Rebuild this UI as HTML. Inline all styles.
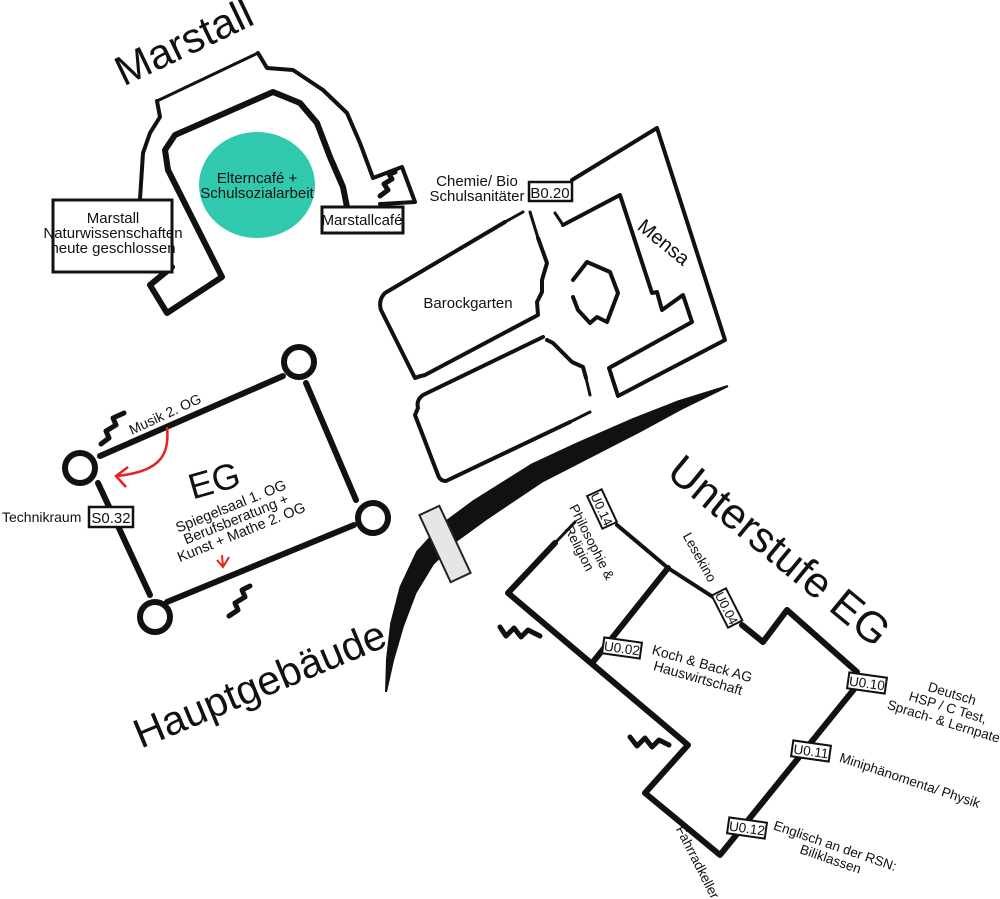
<!DOCTYPE html>
<html><head><meta charset="utf-8">
<style>
html,body{margin:0;padding:0;background:#fff;}
svg{display:block;}
text{font-family:"Liberation Sans",Arial,sans-serif;fill:#111;}
.w{fill:none;stroke:#111;stroke-linejoin:round;stroke-linecap:round;}
</style></head><body>
<svg width="1000" height="899" viewBox="0 0 1000 899" xmlns="http://www.w3.org/2000/svg">
<rect width="1000" height="899" fill="#fff"/>

<!-- ===== MARSTALL ===== -->
<text transform="translate(190,55) rotate(-25.5)" text-anchor="middle" font-size="42">Marstall</text>
<path class="w" stroke-width="4" d="M140,199 L143,153 L150,133 L160,117 L157,101"/>
<path class="w" stroke="#aaa" stroke-width="3" d="M157,101 L258,53"/>
<path class="w" stroke-width="4" d="M258,53 L267,68 L293,70 L323,90 L347,113 L360,143 L373,178 L402,167 L415,202 L380,204"/>
<path class="w" stroke-width="6" d="M347,207 L343,187 L330,157 L317,123 L300,103 L273,92 L175,135 L165,150 L168,170 L222,277 L167,313 L150,285 L172,267"/>
<path class="w" stroke-width="5" d="M380,196 L388,190 L384,184 L392,179 L389,174 L395,172"/>
<ellipse cx="257" cy="185" rx="58" ry="53" fill="#30c9ae"/>
<text x="257" y="183" text-anchor="middle" font-size="15">Elterncafé +</text>
<text x="257" y="198" text-anchor="middle" font-size="15">Schulsozialarbeit</text>
<rect x="53" y="200" width="119" height="72" fill="#fff" stroke="#111" stroke-width="3"/>
<text x="113" y="223" text-anchor="middle" font-size="15">Marstall</text>
<text x="113" y="238" text-anchor="middle" font-size="15">Naturwissenschaften</text>
<text x="113" y="253" text-anchor="middle" font-size="15">heute geschlossen</text>
<rect x="322" y="207" width="81" height="26" fill="#fff" stroke="#111" stroke-width="3"/>
<text x="362" y="225" text-anchor="middle" font-size="15">Marstallcafé</text>

<!-- ===== BAROCKGARTEN / MENSA ===== -->
<text x="477" y="186" text-anchor="middle" font-size="15">Chemie/ Bio</text>
<text x="477" y="201" text-anchor="middle" font-size="15">Schulsanitäter</text>
<rect x="529" y="182" width="43" height="19" fill="#fff" stroke="#111" stroke-width="2.5"/>
<text x="550" y="198" text-anchor="middle" font-size="15">B0.20</text>

<path class="w" stroke-width="4" d="M572,180 L657,128 L725,340 L618,396 L609,368 L692,322 L683,295 L662,310 L657,292 L652,293 L620,195 L563,225"/>
<path class="w" stroke="#bbb" stroke-width="3" d="M563,225 L555,213"/>
<text transform="translate(664,242) rotate(39)" y="7" text-anchor="middle" font-size="20">Mensa</text>

<path class="w" stroke="#bbb" stroke-width="3" d="M523,212 L505,222"/>
<path class="w" stroke-width="4" d="M505,222 L385,293 Q378,300 381,310 L415,378 Q420,376 425,375 L538,315 L537,302 L542,292 L542,280 L547,263 L538,238"/>
<path class="w" stroke="#bbb" stroke-width="3" d="M538,238 L530,212"/>
<text x="468" y="308" text-anchor="middle" font-size="15">Barockgarten</text>

<path class="w" stroke-width="4" d="M543,337 L423,395 Q416,400 418,408 L415,415 L438,475 Q440,481 446,481 L570,422"/>
<path class="w" stroke="#bbb" stroke-width="3" d="M570,422 L590,412"/>
<path class="w" stroke-width="4" d="M547,340 L553,343 L572,362 L583,367 L586,378"/>
<path class="w" stroke="#bbb" stroke-width="3" d="M586,378 L590,395"/>

<path class="w" stroke-width="4" d="M573,280 L587,262 L610,272 L618,293 L607,322 L597,317 L590,323 L578,310 L573,297"/>

<!-- ===== ROAD ===== -->
<polygon fill="#111" points="727.6,385 678,400.4 633.6,417.8 575.6,443 531.3,463.6 472.8,500.4 441.7,523.4 416.2,551.4 399.6,586.6 390.2,623.3 386,659.4 385,692 387,692 394,660.6 403.8,626.7 416.4,593.4 433.8,564.6 458.3,540.6 487.2,519.6 542.7,482.4 584.4,461 640.4,432.2 682,409.6 728.4,387"/>
<rect x="-37" y="-11" width="74" height="22" transform="translate(445,544) rotate(65)" fill="#e6e6e6" stroke="#222" stroke-width="2"/>

<!-- ===== EG BUILDING ===== -->
<path class="w" stroke-width="6" d="M100,456 L283,376"/>
<path class="w" stroke-width="6" d="M306,383 L356,500"/>
<path class="w" stroke-width="6" d="M354,525 L167,602"/>
<path class="w" stroke-width="6" d="M98,483 L150,595"/>
<circle cx="299" cy="362" r="15" fill="none" stroke="#111" stroke-width="6"/>
<circle cx="80" cy="468" r="15" fill="none" stroke="#111" stroke-width="6"/>
<circle cx="373" cy="518" r="15" fill="none" stroke="#111" stroke-width="6"/>
<circle cx="155" cy="617" r="15" fill="none" stroke="#111" stroke-width="6"/>
<path class="w" stroke-width="5" d="M101,444 L109,438 L106,431 L116,425 L113,418 L124,413"/>
<path class="w" stroke-width="5" d="M229,616 L238,610 L235,603 L245,597 L242,590 L250,586"/>

<text transform="translate(165,414) rotate(-25)" y="5" text-anchor="middle" font-size="14">Musik 2. OG</text>
<path d="M167,427 C170,455 160,472 116,476" fill="none" stroke="#e8201f" stroke-width="2.5"/>
<path d="M128,467 L116,476 L126,487" fill="none" stroke="#e8201f" stroke-width="2.5"/>

<text transform="translate(214,480) rotate(-16)" y="13" text-anchor="middle" font-size="36">EG</text>
<g transform="translate(236,519) rotate(-22)" font-size="14.5">
<text y="-9" text-anchor="middle">Spiegelsaal 1. OG</text>
<text y="5" text-anchor="middle">Berufsberatung +</text>
<text y="19" text-anchor="middle">Kunst + Mathe 2. OG</text>
</g>
<path d="M222,555 L223,567 M217,560 L223,567 L229,557" fill="none" stroke="#e8201f" stroke-width="2"/>

<text x="2" y="522" font-size="14">Technikraum</text>
<rect x="89" y="507" width="44" height="20" fill="#fff" stroke="#111" stroke-width="2.5"/>
<text x="111" y="523" text-anchor="middle" font-size="15">S0.32</text>

<text transform="translate(265,697) rotate(-22.6)" text-anchor="middle" font-size="41">Hauptgebäude</text>

<!-- ===== UNTERSTUFE ===== -->
<text transform="translate(770,562) rotate(39.5)" text-anchor="middle" font-size="43">Unterstufe EG</text>

<path class="w" stroke="#aaa" stroke-width="3" d="M575,522 L555,543"/>
<path class="w" stroke-width="6" d="M555,543 L508,593 L688,745 L645,793 L720,855 L855,688"/>
<path class="w" stroke-width="4" d="M617,525 L668,568 L713,597"/>
<path class="w" stroke-width="6" d="M742,625 L763,642 L787,610 L857,672"/>
<path class="w" stroke-width="6" d="M668,568 L593,662"/>
<path class="w" stroke-width="5" d="M500,627 L506,636 L514,628 L521,637 L528,630 L540,636"/>
<path class="w" stroke-width="5" d="M630,737 L637,746 L645,738 L652,747 L659,740 L669,745"/>

<g transform="translate(602,509) rotate(65)"><rect x="-18" y="-8" width="36" height="16" fill="#fff" stroke="#111" stroke-width="2"/><text y="5" text-anchor="middle" font-size="13">U0.14</text></g>
<g transform="translate(727,608) rotate(63)"><rect x="-18" y="-8" width="36" height="16" fill="#fff" stroke="#111" stroke-width="2"/><text y="5" text-anchor="middle" font-size="13">U0.04</text></g>
<g transform="translate(622,648) rotate(8)"><rect x="-19" y="-8" width="38" height="16" fill="#fff" stroke="#111" stroke-width="2"/><text y="5" text-anchor="middle" font-size="13.5">U0.02</text></g>
<g transform="translate(867,683) rotate(8)"><rect x="-19" y="-8" width="38" height="16" fill="#fff" stroke="#111" stroke-width="2"/><text y="5" text-anchor="middle" font-size="13.5">U0.10</text></g>
<g transform="translate(811,751) rotate(8)"><rect x="-19" y="-8" width="38" height="16" fill="#fff" stroke="#111" stroke-width="2"/><text y="5" text-anchor="middle" font-size="13.5">U0.11</text></g>
<g transform="translate(747,828) rotate(8)"><rect x="-19" y="-8" width="38" height="16" fill="#fff" stroke="#111" stroke-width="2"/><text y="5" text-anchor="middle" font-size="13.5">U0.12</text></g>

<g transform="translate(586,545) rotate(63)" font-size="13.5">
<text y="-2" text-anchor="middle">Philosophie &amp;</text>
<text y="12" text-anchor="middle">Religion</text>
</g>
<text transform="translate(700,557) rotate(61)" y="5" text-anchor="middle" font-size="13.5">Lesekino</text>
<g transform="translate(700,671) rotate(16)" font-size="14">
<text y="-3" text-anchor="middle">Koch &amp; Back AG</text>
<text y="12" text-anchor="middle">Hauswirtschaft</text>
</g>
<g transform="translate(948,707) rotate(17)" font-size="13.5">
<text y="-9.5" text-anchor="middle">Deutsch</text>
<text y="5" text-anchor="middle">HSP / C Test,</text>
<text y="19.5" text-anchor="middle">Sprach- &amp; Lernpate</text>
</g>
<text transform="translate(910,780) rotate(18.5)" y="5" text-anchor="middle" font-size="13.5">Miniphänomenta/ Physik</text>
<g transform="translate(833,852) rotate(19)" font-size="13.5">
<text y="-2" text-anchor="middle">Englisch an der RSN:</text>
<text y="12" text-anchor="middle">Biliklassen</text>
</g>
<text transform="translate(698,862) rotate(63)" y="5" text-anchor="middle" font-size="13.5">Fahrradkeller</text>
</svg>
</body></html>
